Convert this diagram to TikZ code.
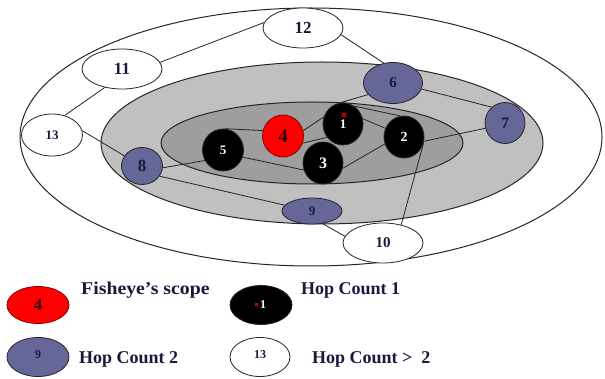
\documentclass[tikz,border=0pt]{standalone}
\usepackage{fontspec}
\setmainfont{Liberation Serif}
\usetikzlibrary{shapes.geometric}
\pgfdeclarelayer{bg}
\pgfsetlayers{bg,main}
\definecolor{hoptwo}{RGB}{102,102,153}
\definecolor{ringmid}{RGB}{192,192,192}
\definecolor{ringin}{RGB}{158,158,158}
\definecolor{numink}{RGB}{25,25,60}
\newcommand\numfont[1]{\fontsize{#1}{#1}\selectfont\bfseries}

\tikzset{
  peer/.style={ellipse, draw=black!85, line width=0.8pt, inner sep=0pt},
  sz/.style 2 args={minimum width=#1pt, minimum height=#2pt},
  scopenode/.style={peer, fill=red, draw=red!55!black, text=black!80!red},
  hopone/.style={peer, fill=black, text=white},
  hoptwonode/.style={peer, fill=hoptwo, text=numink},
  hopfar/.style={peer, fill=white, text=numink},
  link/.style={draw=black!85, line width=0.8pt},
  ring/.style={draw=black!85, line width=1pt},
  legendtext/.style={anchor=west, inner sep=0pt, text=numink, font=\numfont{18}},
  reddot/.style={circle, draw=red, fill=red!60!black, line width=0.6pt, minimum size=4pt, inner sep=0pt}
}

\begin{document}
\begin{tikzpicture}[x=1pt, y=-1pt]
\useasboundingbox (0,0) rectangle (605,379);

% scope rings
\begin{pgfonlayer}{bg}
  \draw[ring, fill=white]   (311,137) ellipse [x radius=291, y radius=129];
  \draw[ring, fill=ringmid] (322,143) ellipse [x radius=221, y radius=81];
  \draw[ring, fill=ringin]  (312,143) ellipse [x radius=151, y radius=41];
\end{pgfonlayer}

% nodes beyond two hops
\node[hopfar, sz={80}{40}, font=\numfont{17}] (n12) at (303,28) {12};
\node[hopfar, sz={80}{40}, font=\numfont{17}] (n11) at (122,69) {11};
\node[hopfar, sz={61}{42}, font=\numfont{13}] (n13) at (52,135) {13};
\node[hopfar, sz={80}{40}, font=\numfont{15}] (n10) at (383,243) {10};

% two-hop nodes
\node[hoptwonode, sz={59}{41}, font=\numfont{15}] (n6) at (393,83) {6};
\node[hoptwonode, sz={40}{41}, font=\numfont{16}] (n7) at (505,123) {7};
\node[hoptwonode, sz={41}{37}, font=\numfont{17}] (n8) at (142,166) {8};
\node[hoptwonode, sz={60}{26}, font=\numfont{13}] (n9) at (312,211) {9};

% fisheye centre and one-hop nodes
\node[scopenode, sz={41}{42}, font=\numfont{19}] (n4) at (283,136) {4};
\node[hopone, sz={40}{42}, font=\numfont{13}] (n1) at (343,124) {\raisebox{-3pt}{1}};
\node[hopone, sz={40}{42}, font=\numfont{14}] (n2) at (404,137) {2};
\node[hopone, sz={40}{42}, font=\numfont{16}] (n3) at (323,163) {3};
\node[hopone, sz={41}{42}, font=\numfont{13}] (n5) at (223,150) {5};
\node[reddot] (dot1) at (344,115) {};

% links
\begin{pgfonlayer}{bg}
  \draw[link] (n11.10)   -- (n12.172);
  \draw[link] (n12.-10)  -- (n6.115);
  \draw[link] (n11.-133) -- (n13.57);
  \draw[link] (n13.8)    -- (n8.150);
  \draw[link] (n8.-5)    -- (n5.-150);
  \draw[link] (n8.-30)   -- (n9.168);
  \draw[link] (n9.-50)   -- (n10.170);
  \draw[link] (n10.45)   -- (n2.-18);
  \draw[link] (n2.-12)   -- (n7.-165);
  \draw[link] (n6.-12)   -- (n7.130);
  \draw[link] (n6.-155)  -- (n1.100);
  \draw[link] (n1.160)   -- (n4.15);
  \draw[link] (n4.-20)   -- (n1.-140);
  \draw[link] (n5.85)    -- (n4.165);
  \draw[link] (n5.-20)   -- (n3.-160);
  \draw[link] (n3.-15)   -- (n2.-160);
  \draw[link] (n1.15)    -- (n2.155);
  \draw[link] (n1.58)    -- (n2.100);
\end{pgfonlayer}

% legend
\node[scopenode, sz={62}{37}, font=\numfont{17}] (k4) at (38,305) {4};
\node[legendtext] (t4) at (81,290) {\scalebox{1.1}[1]{Fisheye’s scope}};
\node[hopone, sz={62}{39}, font=\numfont{12}] (k1) at (261,305) {\hspace{4pt}1};
\node[fill=red!80!black, minimum size=3pt, inner sep=0pt] (kdot) at (256,305) {};
\node[legendtext] (t1) at (301,290) {Hop Count 1};
\node[hoptwonode, sz={62}{39}, font=\numfont{12}] (k9) at (38,357) {\raisebox{4pt}{9}};
\node[legendtext] (t9) at (79,359) {Hop Count 2};
\node[hopfar, sz={60}{39}, font=\numfont{12}] (k13) at (260,357) {\raisebox{4pt}{13}};
\node[legendtext] (t13) at (312,359) {Hop Count >\ \ 2};
\end{tikzpicture}
\end{document}
